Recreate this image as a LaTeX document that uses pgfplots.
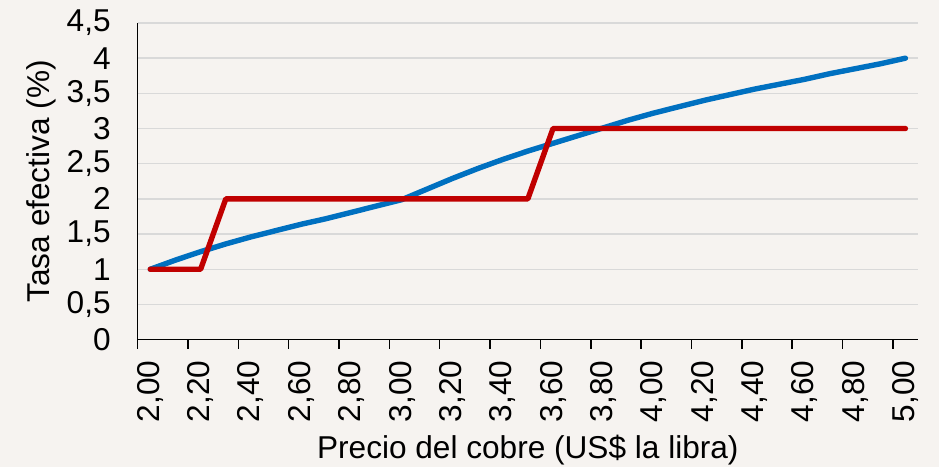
\documentclass[border=0pt]{standalone}
\usepackage{fontspec}
\setmainfont{Liberation Sans}
\usepackage{pgfplots}
\pgfplotsset{compat=1.18}
\definecolor{bgc}{RGB}{246,243,240}
\definecolor{gridc}{RGB}{217,217,217}
\definecolor{cblue}{RGB}{0,112,192}
\definecolor{cred}{RGB}{192,0,0}
\begin{document}
\begin{tikzpicture}
% fondo (1 px = 0.5 pt)
\fill[bgc] (-68.85pt,-63.7pt) rectangle (400.65pt,169.8pt);
\begin{axis}[
    at={(0,0)}, anchor=south west,
    scale only axis,
    width=390.15pt, height=158.3pt,
    xmin=1.95, xmax=5.05,
    ymin=0, ymax=4.5,
    axis lines=left,
    axis line style={-, black, line width=0.75pt},
    xtick={2.0,2.2,2.4,2.6,2.8,3.0,3.2,3.4,3.6,3.8,4.0,4.2,4.4,4.6,4.8,5.0},
    minor xtick={1.95,2.15,2.35,2.55,2.75,2.95,3.15,3.35,3.55,3.75,3.95,4.15,4.35,4.55,4.75,4.95},
    ytick={0,0.5,...,4.5},
    major tick length=0pt,
    minor tick length=4.5pt,
    tick align=outside,
    minor tick style={black, line width=0.75pt},
    ymajorgrids,
    major grid style={gridc, line width=0.75pt},
    xticklabel style={rotate=90, anchor=east, xshift=-7pt,
        /pgf/number format/.cd, fixed, fixed zerofill, precision=2, use comma},
    yticklabel style={anchor=east, xshift=-10pt,
        /pgf/number format/.cd, fixed, precision=1, use comma},
    /pgf/number format/assume math mode=true,
    tick label style={font=\fontsize{15.8}{18}\selectfont},
    label style={font=\fontsize{15.8}{18}\selectfont},
    xlabel={Precio del cobre (US\$ la libra)},
    ylabel={Tasa efectiva (\%)},
    xlabel style={at={(axis description cs:0.5,0)}, anchor=center, yshift=-55pt},
    ylabel style={at={(axis description cs:-0.124,0.5)}, anchor=center},
    clip=false,
]
\addplot[cblue, line width=2.7pt, line cap=round, line join=round] coordinates {
    (2.0,1.00) (2.1,1.13) (2.2,1.25) (2.3,1.36) (2.4,1.46) (2.5,1.55)
    (2.6,1.64) (2.7,1.72) (2.8,1.81) (2.9,1.90) (3.0,1.99) (3.1,2.14)
    (3.2,2.29) (3.3,2.43) (3.4,2.56) (3.5,2.68) (3.6,2.79) (3.7,2.90)
    (3.8,3.01) (3.9,3.12) (4.0,3.22) (4.1,3.31) (4.2,3.40) (4.3,3.48)
    (4.4,3.56) (4.5,3.63) (4.6,3.70) (4.7,3.78) (4.8,3.85) (4.9,3.92)
    (5.0,4.00)
};
\addplot[cred, line width=2.7pt, line cap=round, line join=round] coordinates {
    (2.0,1) (2.1,1) (2.2,1) (2.3,2) (2.4,2) (2.5,2) (2.6,2) (2.7,2)
    (2.8,2) (2.9,2) (3.0,2) (3.1,2) (3.2,2) (3.3,2) (3.4,2) (3.5,2)
    (3.6,3) (3.7,3) (3.8,3) (3.9,3) (4.0,3) (4.1,3) (4.2,3) (4.3,3)
    (4.4,3) (4.5,3) (4.6,3) (4.7,3) (4.8,3) (4.9,3) (5.0,3)
};
\end{axis}
\end{tikzpicture}
\end{document}
